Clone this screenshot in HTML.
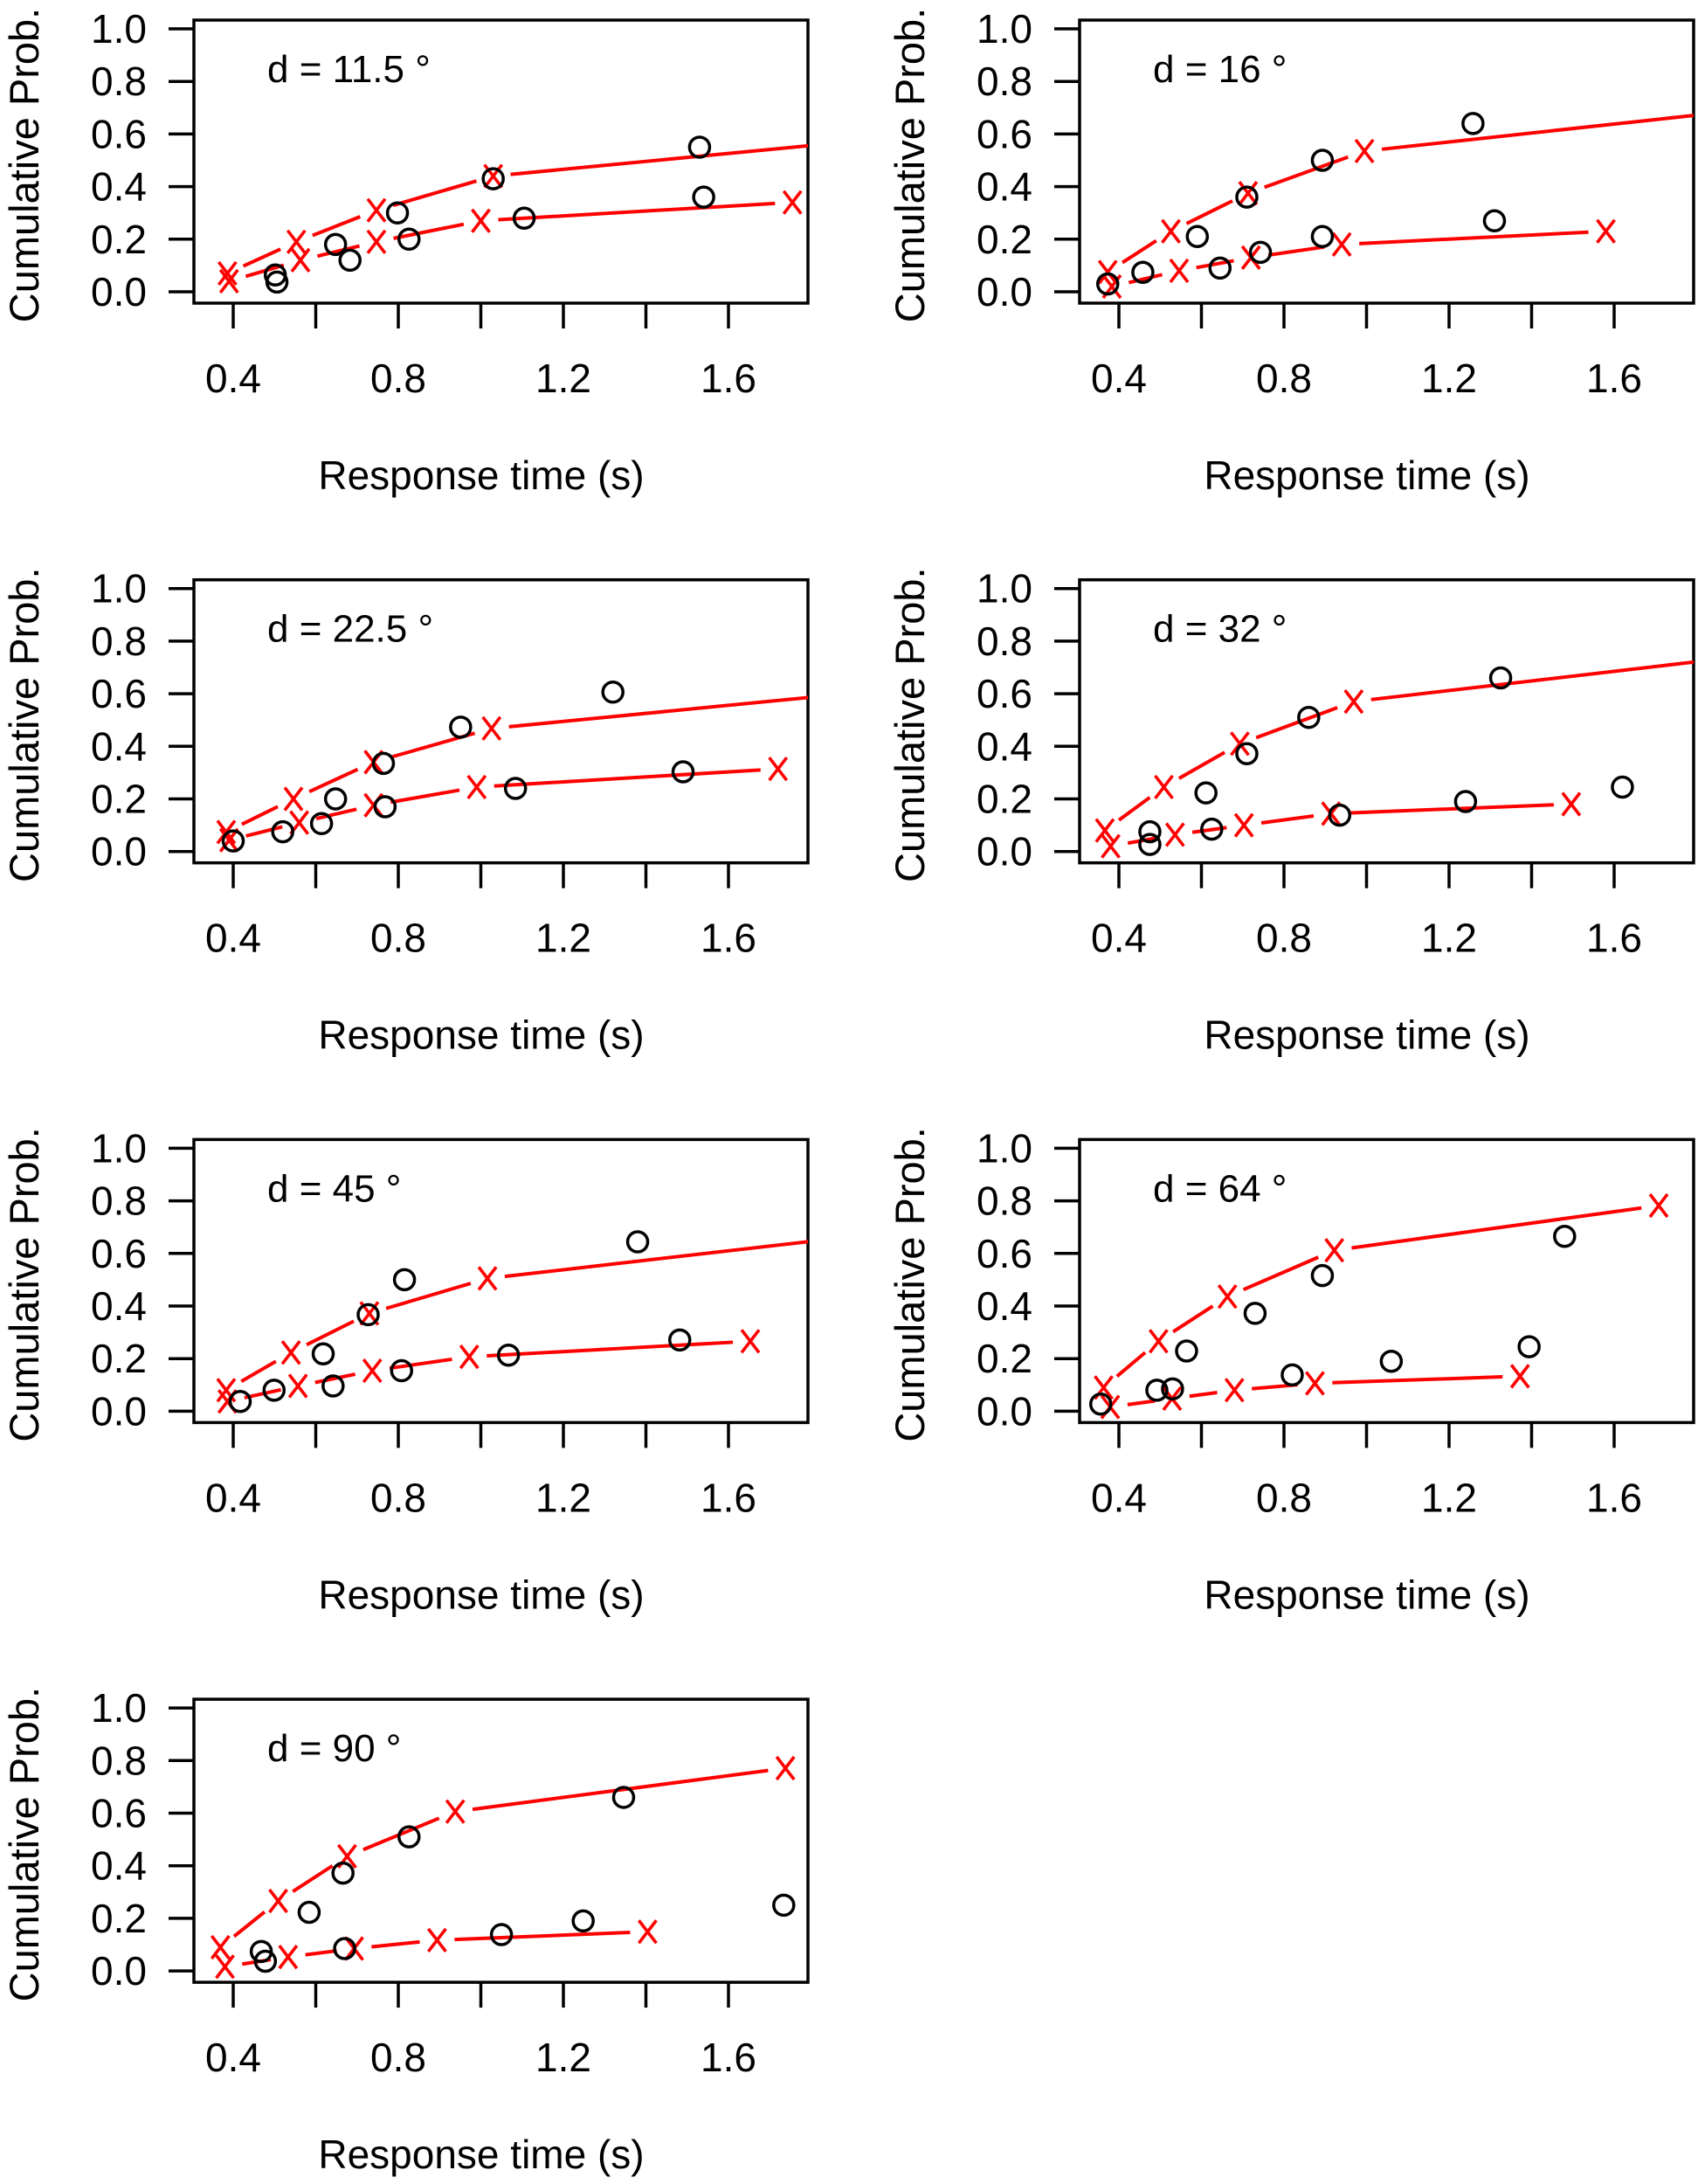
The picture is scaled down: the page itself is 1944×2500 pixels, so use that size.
<!DOCTYPE html>
<html><head><meta charset="utf-8"><style>
html,body{margin:0;padding:0;background:#fff;}
svg{display:block;font-family:"Liberation Sans",Arial,sans-serif;}
</style></head><body>
<svg id="fig" width="1944" height="2500" viewBox="0 0 1944 2500" xmlns="http://www.w3.org/2000/svg"></svg>
<script>
const panelLabels = ["d = 11.5 °","d = 16 °","d = 22.5 °","d = 32 °","d = 45 °","d = 64 °","d = 90 °"];
const xTicks = [0.4,0.8,1.2,1.6];
const xMinorTicks = [0.4,0.6,0.8,1.0,1.2,1.4,1.6];
const yTicks = [0,0.2,0.4,0.6,0.8,1.0];
const yTickLabels = ["0.0","0.2","0.4","0.6","0.8","1.0"];
// observed circles: upper and lower
const obsUpperX = [[0.502,0.648,0.798,1.03,1.53],[0.373,0.59,0.71,0.893,1.258],[0.4,0.648,0.764,0.951,1.32],[0.475,0.611,0.71,0.86,1.325],[0.499,0.618,0.727,0.815,1.38],[0.492,0.564,0.73,0.893,1.48],[0.468,0.584,0.666,0.826,1.346]];
const obsUpperY = [[0.064,0.18,0.30,0.43,0.55],[0.03,0.21,0.36,0.50,0.64],[0.04,0.20,0.335,0.473,0.606],[0.075,0.223,0.372,0.51,0.66],[0.08,0.218,0.367,0.50,0.644],[0.08,0.229,0.372,0.516,0.665],[0.074,0.223,0.372,0.51,0.66]];
const obsLowerX = [[0.506,0.683,0.826,1.105,1.54],[0.458,0.645,0.743,0.893,1.31],[0.52,0.614,0.768,1.084,1.49],[0.475,0.625,0.935,1.24,1.62],[0.417,0.642,0.808,1.067,1.482],[0.356,0.53,0.82,1.06,1.394],[0.478,0.67,1.05,1.248,1.734]];
const obsLowerY = [[0.037,0.12,0.20,0.28,0.36],[0.074,0.09,0.15,0.21,0.27],[0.075,0.106,0.17,0.24,0.303],[0.027,0.085,0.138,0.19,0.245],[0.037,0.096,0.154,0.213,0.271],[0.027,0.085,0.138,0.19,0.245],[0.037,0.085,0.138,0.19,0.25]];
// model predictions (red x)
const modUpperX = [[0.386,0.553,0.747,1.03,2.3],[0.373,0.526,0.713,0.995,2.3],[0.383,0.546,0.74,1.026,2.3],[0.366,0.509,0.693,0.969,2.3],[0.383,0.54,0.73,1.016,2.3],[0.363,0.496,0.663,0.922,1.708],[0.369,0.509,0.676,0.938,1.738]];
const modUpperY = [[0.07,0.19,0.31,0.44,0.632],[0.075,0.23,0.375,0.535,0.757],[0.074,0.20,0.34,0.468,0.663],[0.08,0.245,0.41,0.57,0.813],[0.08,0.223,0.372,0.505,0.736],[0.09,0.266,0.436,0.612,0.782],[0.09,0.266,0.436,0.606,0.771]];
const modLowerX = [[0.39,0.563,0.747,1.0,1.755],[0.383,0.546,0.72,0.94,1.58],[0.39,0.56,0.74,0.99,1.72],[0.38,0.536,0.703,0.914,1.496],[0.386,0.557,0.737,0.972,1.653],[0.379,0.529,0.68,0.875,1.372],[0.38,0.533,0.693,0.894,1.404]];
const modLowerY = [[0.04,0.12,0.19,0.27,0.34],[0.02,0.08,0.13,0.18,0.23],[0.043,0.11,0.176,0.245,0.314],[0.02,0.064,0.10,0.144,0.18],[0.037,0.096,0.154,0.207,0.266],[0.016,0.048,0.08,0.106,0.133],[0.016,0.053,0.085,0.117,0.149]];

const NS="http://www.w3.org/2000/svg";
const svg=document.getElementById('fig');
function mk(tag,attrs,parent){const e=document.createElementNS(NS,tag);for(const k in attrs)e.setAttribute(k,attrs[k]);(parent||svg).appendChild(e);return e;}
const COL=1014, ROW=640.7;
for(let p=0;p<7;p++){
  const ox=(p%2)*COL, oy=Math.floor(p/2)*ROW;
  const X=v=>ox+267+(v-0.4)*472.5;
  const Y=v=>oy+334-v*301;
  const g=mk('g',{});
  
  
  const bx=ox+222, by=oy+23, bw=703, bh=324;
  const cp=mk('clipPath',{id:'cp'+p},g);
  mk('rect',{x:bx,y:by,width:bw,height:bh},cp);
  const box=mk('rect',{x:bx,y:by,width:bw,height:bh,fill:'none',stroke:'#000','stroke-width':3.5},g);
  
  
  yTicks.forEach((v,i)=>{
    const t=mk('line',{x1:ox+193,x2:bx,y1:Y(v),y2:Y(v),stroke:'#000','stroke-width':3.5},g);
    
    
    const tl=mk('text',{x:ox+168,y:Y(v)+16,'text-anchor':'end','font-size':46},g);
    tl.textContent=yTickLabels[i];
    
    
  });
  xMinorTicks.forEach(v=>{
    const t=mk('line',{x1:X(v),x2:X(v),y1:by+bh,y2:oy+376,stroke:'#000','stroke-width':3.5},g);
    
    
  });
  xTicks.forEach(v=>{
    const tl=mk('text',{x:X(v),y:oy+449,'text-anchor':'middle','font-size':46},g);
    tl.textContent=v.toFixed(1);
    
    
  });
  const xl=mk('text',{x:ox+551,y:oy+560,'text-anchor':'middle','font-size':46},g);
  xl.textContent='Response time (s)';
  
  
  const yl=mk('text',{x:0,y:0,'text-anchor':'middle','font-size':47,transform:`translate(${ox+44},${oy+189}) rotate(-90)`},g);
  yl.textContent='Cumulative Prob.';
  
  
  const pl=mk('text',{x:ox+306,y:oy+94,'font-size':44},g);
  pl.textContent=panelLabels[p];
  
  
  const clipG=mk('g',{'clip-path':`url(#cp${p})`},g);
  [[modUpperX,modUpperY],[modLowerX,modLowerY]].forEach(([xs,ys],si)=>{
    const px=xs[p].map(X), py=ys[p].map(Y);
    for(let i=0;i<px.length-1;i++){
      const dx=px[i+1]-px[i], dy=py[i+1]-py[i], L=Math.hypot(dx,dy), gap=20;
      if(L<=2*gap) continue;
      const ux=dx/L, uy=dy/L;
      const seg=mk('line',{x1:px[i]+ux*gap,y1:py[i]+uy*gap,x2:px[i+1]-ux*gap,y2:py[i+1]-uy*gap,stroke:'#ff0000','stroke-width':4},clipG);
      
      
    }
    px.forEach((x,i)=>{
      const y=py[i];
      const m=mk('path',{d:`M${x-10},${y-13}L${x+10},${y+13}M${x+10},${y-13}L${x-10},${y+13}`,stroke:'#ff0000','stroke-width':3.6,fill:'none'},clipG);
      
      
    });
  });
  [[obsUpperX,obsUpperY],[obsLowerX,obsLowerY]].forEach(([xs,ys])=>{
    xs[p].forEach((v,i)=>{
      const c=mk('circle',{cx:X(v),cy:Y(ys[p][i]),r:11.5,fill:'none',stroke:'#000','stroke-width':3.5},clipG);
      
      
    });
  });
}
</script>
</body></html>
